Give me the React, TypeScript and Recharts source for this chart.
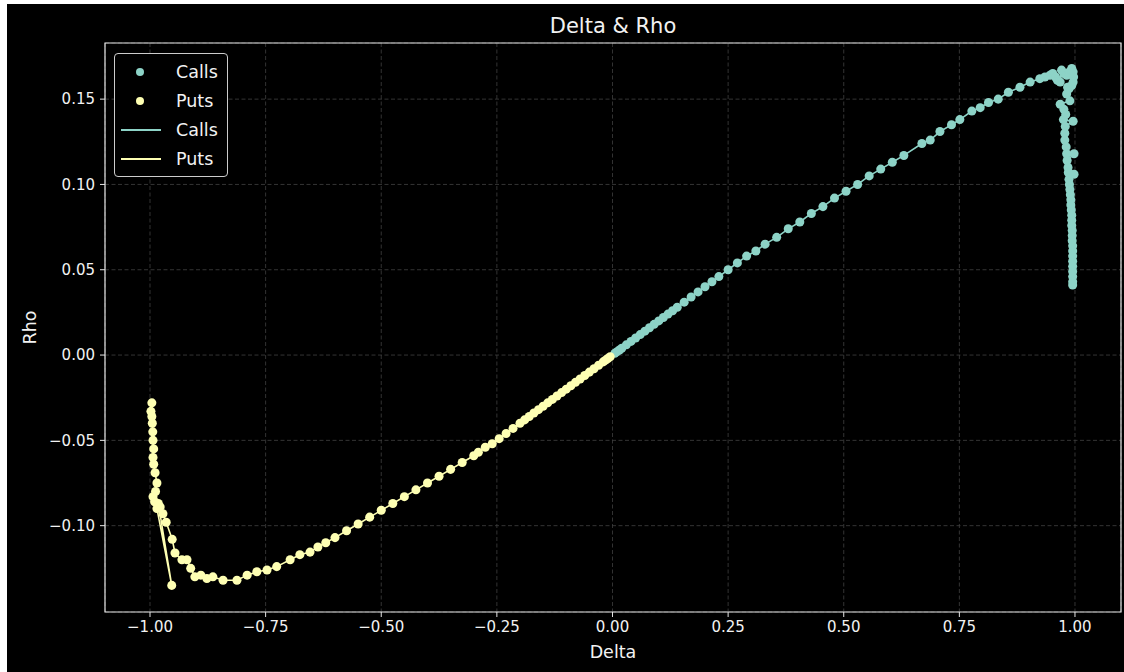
import {
  ScatterChart,
  Scatter,
  XAxis,
  YAxis,
  ZAxis,
  CartesianGrid,
  Legend,
  ReferenceArea
} from 'recharts';

const CALL_COLOR = '#8dd3c7';
const PUT_COLOR = '#feffb3';
const TEXT_COLOR = '#f2f2f2';
const FONT = '"DejaVu Sans", sans-serif';

// Calls: delta / rho, in plotting order
const callDelta = [
  0.005, 0.01, 0.015, 0.02, 0.03, 0.04, 0.05, 0.06, 0.07, 0.08, 0.09, 0.1, 0.11, 0.12, 0.13, 0.14,
  0.155, 0.17, 0.185, 0.2, 0.215, 0.23, 0.25, 0.27, 0.29, 0.31, 0.33, 0.355, 0.38, 0.405, 0.43,
  0.455, 0.48, 0.505, 0.53, 0.555, 0.58, 0.605, 0.63, 0.669, 0.687, 0.708, 0.733, 0.751, 0.777,
  0.795, 0.813, 0.834, 0.856, 0.881, 0.903, 0.924, 0.935, 0.946, 0.952, 0.958, 0.962, 0.968,
  0.971, 0.976, 0.982, 0.988, 0.993, 0.996, 0.997, 0.996, 0.993, 0.987, 0.984, 0.982, 0.989,
  0.968, 0.976, 0.98, 0.975, 0.996, 0.979, 0.978, 0.978, 0.981, 0.982, 0.998, 0.983, 0.985,
  0.9855, 0.998, 0.987, 0.988, 0.989, 0.99, 0.991, 0.991, 0.992, 0.993, 0.993, 0.993, 0.994,
  0.994, 0.994, 0.995, 0.995, 0.995, 0.995, 0.995, 0.995, 0.995, 0.995, 0.995
];
const callRho = [
  0.001, 0.002, 0.003, 0.004, 0.006, 0.008, 0.01, 0.012, 0.014, 0.016, 0.018, 0.02, 0.022, 0.024,
  0.026, 0.028, 0.031, 0.034, 0.037, 0.04, 0.043, 0.046, 0.05, 0.054, 0.058, 0.061, 0.065, 0.069,
  0.074, 0.078, 0.083, 0.087, 0.092, 0.096, 0.1, 0.105, 0.109, 0.113, 0.117, 0.124, 0.126, 0.131,
  0.135, 0.138, 0.143, 0.145, 0.148, 0.15, 0.154, 0.157, 0.16, 0.162, 0.163, 0.164, 0.165, 0.163,
  0.161, 0.16, 0.167, 0.165, 0.164, 0.166, 0.168, 0.166, 0.163, 0.16, 0.158, 0.156, 0.157, 0.153,
  0.149, 0.147, 0.144, 0.141, 0.138, 0.137, 0.134, 0.13, 0.126, 0.122, 0.118, 0.118, 0.114, 0.11,
  0.107, 0.106, 0.103, 0.1, 0.097, 0.094, 0.091, 0.088, 0.085, 0.082, 0.079, 0.076, 0.073, 0.07,
  0.067, 0.064, 0.061, 0.058, 0.055, 0.052, 0.049, 0.046, 0.043, 0.041
];

// Puts: delta / rho, in plotting order
const putDelta = [
  -0.005, -0.01, -0.015, -0.02, -0.03, -0.04, -0.05, -0.06, -0.07, -0.08, -0.09, -0.1, -0.11,
  -0.12, -0.13, -0.14, -0.15, -0.16, -0.17, -0.18, -0.19, -0.2, -0.215, -0.23, -0.245, -0.26,
  -0.275, -0.29, -0.3, -0.325, -0.35, -0.375, -0.4, -0.425, -0.45, -0.475, -0.5, -0.525, -0.55,
  -0.575, -0.6, -0.62, -0.637, -0.654, -0.676, -0.697, -0.726, -0.747, -0.769, -0.79, -0.812,
  -0.842, -0.864, -0.877, -0.89, -0.903, -0.912, -0.92, -0.931, -0.946, -0.952, -0.965, -0.972,
  -0.978, -0.982, -0.953, -0.985, -0.99, -0.9935, -0.988, -0.985, -0.989, -0.992, -0.9935,
  -0.992, -0.9935, -0.994, -0.995, -0.996, -0.998, -0.996
];
const putRho = [
  -0.001, -0.002, -0.003, -0.004, -0.006, -0.008, -0.01, -0.012, -0.014, -0.016, -0.018, -0.02,
  -0.022, -0.024, -0.026, -0.028, -0.03, -0.032, -0.034, -0.036, -0.038, -0.04, -0.043, -0.046,
  -0.049, -0.052, -0.054, -0.057, -0.059, -0.063, -0.067, -0.071, -0.075, -0.079, -0.083, -0.087,
  -0.091, -0.095, -0.099, -0.103, -0.107, -0.11, -0.1125, -0.1155, -0.117, -0.12, -0.124, -0.126,
  -0.127, -0.129, -0.132, -0.132, -0.13, -0.131, -0.129, -0.13, -0.125, -0.12, -0.12, -0.116,
  -0.108, -0.098, -0.093, -0.089, -0.087, -0.135, -0.09, -0.086, -0.083, -0.08, -0.075, -0.069,
  -0.064, -0.06, -0.055, -0.05, -0.045, -0.04, -0.036, -0.033, -0.028
];

const xTicks = [-1, -0.75, -0.5, -0.25, 0, 0.25, 0.5, 0.75, 1];
const yTicks = [-0.1, -0.05, 0, 0.05, 0.1, 0.15];
const xDomain: [number, number] = [-1.0973, 1.0995];
const yDomain: [number, number] = [-0.1506, 0.1829];

const calls = callDelta.map((d, i) => ({ delta: d, rho: callRho[i] }));
const puts = putDelta.map((d, i) => ({ delta: d, rho: putRho[i] }));

const fmt = (v: number) => v.toFixed(2).replace('-', '\u2212');

const legendRows = [
  { label: 'Calls', color: CALL_COLOR, kind: 'dot' },
  { label: 'Puts', color: PUT_COLOR, kind: 'dot' },
  { label: 'Calls', color: CALL_COLOR, kind: 'line' },
  { label: 'Puts', color: PUT_COLOR, kind: 'line' }
];

function LegendBox() {
  return (
    <div
      style={{
        boxSizing: 'border-box',
        width: 114,
        border: '1px solid #cccccc',
        borderRadius: 4,
        background: '#000',
        padding: '3px 8px 3px 6px',
        fontFamily: FONT
      }}
    >
      {legendRows.map((r, i) => (
        <div key={i} style={{ display: 'flex', alignItems: 'center', height: 29 }}>
          <svg width={40} height={10}>
            {r.kind === 'dot' ? (
              <circle cx={19} cy={5} r={4} fill={r.color} />
            ) : (
              <line x1={0} x2={40} y1={5} y2={5} stroke={r.color} strokeWidth={2} />
            )}
          </svg>
          <span style={{ marginLeft: 15, color: TEXT_COLOR, fontSize: 17.5 }}>{r.label}</span>
        </div>
      ))}
    </div>
  );
}

const YLabel = (props: any) => {
  const vb = props.viewBox;
  const x = vb.x + 20;
  const y = vb.y + vb.height / 2;
  return (
    <text
      x={x}
      y={y}
      transform={`rotate(-90 ${x} ${y})`}
      textAnchor="middle"
      dominantBaseline="central"
      fill={TEXT_COLOR}
      fontSize={17.5}
      fontFamily={FONT}
    >
      Rho
    </text>
  );
};

const NoDot = () => <g />;

export default function App() {
  return (
    <div style={{ position: 'relative', width: 1124, height: 672, background: '#fff' }}>
      <style>{'body{margin:0}'}</style>
      <div style={{ position: 'absolute', left: 7, top: 4, right: 0, bottom: 0, background: '#000' }} />
      <div
        style={{
          position: 'absolute',
          left: 105,
          width: 1016,
          top: 14,
          height: 24,
          lineHeight: '24px',
          textAlign: 'center',
          color: TEXT_COLOR,
          fontFamily: FONT,
          fontSize: 21
        }}
      >
        Delta &amp; Rho
      </div>
      <div style={{ position: 'absolute', left: 0, top: 0 }}>
        <ScatterChart
          width={1124}
          height={672}
          margin={{ top: 43, right: 3, bottom: 10, left: 10 }}
        >
          <CartesianGrid stroke="#404040" strokeWidth={0.8} strokeDasharray="4 2.5" />
          <ReferenceArea
            x1={xDomain[0]}
            x2={xDomain[1]}
            y1={yDomain[0]}
            y2={yDomain[1]}
            fill="none"
            fillOpacity={0}
            stroke="#e6e6e6"
            strokeWidth={1.2}
          />
          <XAxis
            type="number"
            dataKey="delta"
            domain={xDomain}
            ticks={xTicks}
            allowDataOverflow
            height={50}
            axisLine={false}
            tickSize={5}
            tickMargin={4}
            tickLine={{ stroke: '#e6e6e6' }}
            tickFormatter={fmt}
            tick={{ fill: TEXT_COLOR, fontSize: 15, fontFamily: FONT }}
            label={{
              value: 'Delta',
              position: 'insideBottom',
              offset: 4,
              fill: TEXT_COLOR,
              fontSize: 17.5,
              fontFamily: FONT
            }}
          />
          <YAxis
            type="number"
            dataKey="rho"
            domain={yDomain}
            ticks={yTicks}
            allowDataOverflow
            width={95}
            axisLine={false}
            tickSize={5}
            tickMargin={5}
            tickLine={{ stroke: '#e6e6e6' }}
            tickFormatter={fmt}
            tick={{ fill: TEXT_COLOR, fontSize: 15, fontFamily: FONT }}
            label={<YLabel />}
          />
          <ZAxis range={[50, 50]} />
          <Legend
            layout="vertical"
            align="center"
            verticalAlign="middle"
            wrapperStyle={{ left: 114, top: 53, width: 114 }}
            content={() => <LegendBox />}
          />
          <Scatter name="Calls" data={calls} fill={CALL_COLOR} isAnimationActive={false} />
          <Scatter name="Puts" data={puts} fill={PUT_COLOR} isAnimationActive={false} />
          <Scatter
            name="Calls line"
            data={calls}
            fill={CALL_COLOR}
            line={{ stroke: CALL_COLOR, strokeWidth: 1.6 }}
            shape={NoDot}
            legendType="none"
            isAnimationActive={false}
          />
          <Scatter
            name="Puts line"
            data={puts}
            fill={PUT_COLOR}
            line={{ stroke: PUT_COLOR, strokeWidth: 1.6 }}
            shape={NoDot}
            legendType="none"
            isAnimationActive={false}
          />
        </ScatterChart>
      </div>
    </div>
  );
}
